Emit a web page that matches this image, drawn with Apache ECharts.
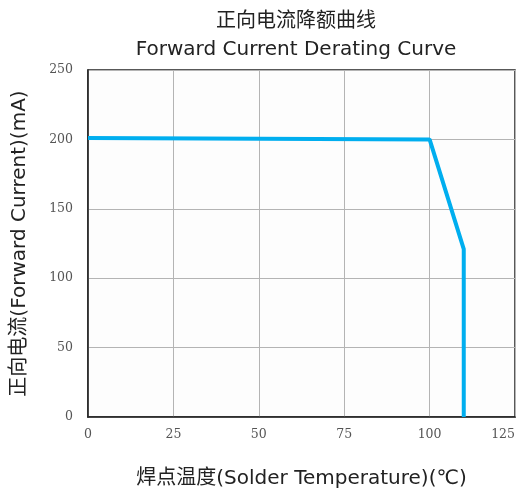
<!DOCTYPE html>
<html><head><meta charset="utf-8">
<script src="https://cdn.jsdelivr.net/npm/echarts@6/dist/echarts.min.js"></script>
<style>html,body{margin:0;padding:0;background:#fff}#c{width:516px;height:493px}</style>
</head><body><div id="c"></div>
<script>
var temperature = [0, 100, 110, 110];
var current = [201, 200, 121, 0];
var xTicks = [0, 25, 50, 75, 100, 125];
var yTicks = [0, 50, 100, 150, 200, 250];

var chart = echarts.init(document.getElementById('c'));
var pts = temperature.map(function (t, i) { return [t, current[i]]; });
var sans = '"DejaVu Sans","Noto Sans CJK SC",sans-serif';
var serif = '"DejaVu Serif","Liberation Serif",serif';
chart.setOption({
  backgroundColor: '#ffffff',
  animation: false,
  title: {
    text: '正向电流降额曲线\nForward Current Derating Curve',
    left: 291, top: 3, textAlign: 'center',
    textStyle: { fontFamily: sans, fontSize: 20, fontWeight: 'normal', color: '#222', lineHeight: 28 }
  },
  grid: { left: 88, right: 1, top: 70, bottom: 76, show: true, borderColor: '#222', borderWidth: 1.5, backgroundColor: '#fdfdfd', outerBoundsMode: 'none', containLabel: false },
  xAxis: {
    type: 'value', min: xTicks[0], max: xTicks[xTicks.length - 1], interval: 25,
    name: '焊点温度(Solder Temperature)(℃)', nameLocation: 'middle', nameGap: 52,
    nameTextStyle: { fontFamily: sans, fontSize: 20, color: '#222' },
    axisLine: { show: true, lineStyle: { color: '#222', width: 1.5 } },
    axisTick: { show: false },
    axisLabel: { fontFamily: serif, fontSize: 12.5, color: '#555', margin: 11, hideOverlap: false, alignMaxLabel: 'right' },
    splitLine: { show: true, lineStyle: { color: '#b4b4b4', width: 1 } }
  },
  yAxis: {
    type: 'value', min: yTicks[0], max: yTicks[yTicks.length - 1], interval: 50,
    name: '正向电流(Forward Current)(mA)', nameLocation: 'middle', nameGap: 58, nameRotate: 90,
    nameTextStyle: { fontFamily: sans, fontSize: 20, color: '#222' },
    axisLine: { show: true, lineStyle: { color: '#222', width: 1.5 } },
    axisTick: { show: false },
    axisLabel: { fontFamily: serif, fontSize: 12.5, color: '#555', margin: 15 },
    splitLine: { show: true, lineStyle: { color: '#b4b4b4', width: 1 } }
  },
  series: [{
    type: 'line', data: pts, symbol: 'none',
    lineStyle: { color: '#00aeef', width: 4 }
  }]
});
</script></body></html>
